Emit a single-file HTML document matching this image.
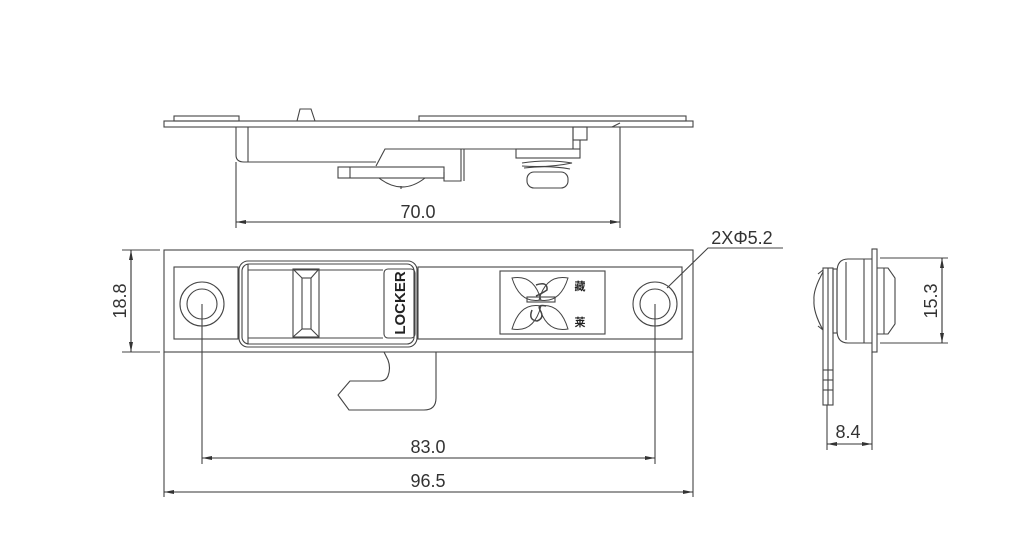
<!DOCTYPE html>
<html><head><meta charset="utf-8"><style>
html,body{margin:0;padding:0;background:#fff;}
svg{display:block;}
text{font-family:"Liberation Sans",sans-serif;fill:#333;}
</style></head><body>
<svg width="1020" height="560" viewBox="0 0 1020 560" xmlns="http://www.w3.org/2000/svg">
<defs>
<marker id="a" viewBox="0 0 10 4" refX="10" refY="2" markerWidth="10" markerHeight="4" orient="auto-start-reverse" markerUnits="userSpaceOnUse"><path d="M0,0 L10,2 L0,4 Z" fill="#333"/></marker>
</defs>
<g fill="none" stroke="#444" stroke-width="1.1">
<rect x="164" y="121" width="529" height="6"/>
<rect x="174" y="116" width="65" height="5"/>
<rect x="419" y="116" width="267" height="5"/>
<path d="M297,121 L300,109 L311,109 L315,121"/>
<path d="M236,127 V155 Q236,162 244,162 H376"/>
<line x1="248" y1="127" x2="248" y2="162"/>
<path d="M376,166 L385,149 H573 V127"/>
<rect x="338" y="167" width="106" height="11"/>
<line x1="350" y1="167" x2="350" y2="178"/>
<path d="M444,172 V181 H461 V149"/>
<line x1="464" y1="149" x2="464" y2="181"/>
<path d="M379,178 Q402,196 425,178"/>
<line x1="401" y1="186" x2="401" y2="189"/>
<rect x="573" y="127" width="14" height="13"/>
<line x1="580" y1="140" x2="580" y2="149"/>
<rect x="516" y="149" width="64" height="9"/>
<path d="M523,158 H574"/>
<path d="M522,163 Q548,159 572,163 Q548,168 522,166"/>
<path d="M524,168 Q548,165 570,169"/>
<rect x="527" y="172" width="41" height="16" rx="7"/>
<path d="M612,127 L620,123"/>
<line x1="236" y1="162" x2="236" y2="228"/>
<line x1="620" y1="127" x2="620" y2="228"/>
<line x1="236" y1="222" x2="620" y2="222" marker-start="url(#a)" marker-end="url(#a)" stroke="#333"/>

<rect x="164" y="250" width="529" height="102"/>
<rect x="174" y="267" width="64" height="72"/>
<circle cx="202" cy="304" r="22"/>
<circle cx="202" cy="304" r="15"/>
<rect x="418" y="267" width="264" height="72"/>
<circle cx="655" cy="304" r="22"/>
<circle cx="655" cy="304" r="15"/>
<rect x="239" y="261" width="178" height="86" rx="9"/>
<rect x="242" y="264" width="172" height="80" rx="7"/>
<line x1="248" y1="264" x2="248" y2="344"/>
<line x1="248" y1="270" x2="383" y2="270"/>
<line x1="248" y1="338" x2="383" y2="338"/>
<rect x="293" y="269" width="26" height="68"/>
<rect x="302" y="278" width="9" height="51"/>
<path d="M293,269 L302,278 M319,269 L311,278 M293,337 L302,329 M319,337 L311,329"/>
<rect x="384" y="269" width="31" height="69" rx="4"/>
<rect x="500" y="271" width="105" height="63"/>
<path d="M384,352 L388,360 Q391,368 388,376 Q386,381 380,381 H350 L338,395 L349,410 H424 Q436,410 436,398 V352"/>
<path d="M512,278 Q534,274 541,300 Q520,304 512,278 Z M568,278 Q546,274 539,300 Q560,304 568,278 Z M512,329 Q534,333 541,306 Q520,302 512,329 Z M568,329 Q546,333 539,306 Q560,302 568,329 Z" stroke-width="1"/>
<rect x="527" y="297" width="28" height="5"/>
<path d="M532,310 Q528,320 537,321 Q545,318 540,310 Q537,304 546,306" stroke-width="1.5"/>
<path d="M536,285 Q548,281 547,290 Q541,294 536,296" stroke-width="1.5"/>
<path d="M667,288 L708,248 H783"/>
<line x1="202" y1="304" x2="202" y2="464"/>
<line x1="655" y1="304" x2="655" y2="464"/>
<line x1="164" y1="352" x2="164" y2="497"/>
<line x1="693" y1="352" x2="693" y2="497"/>
<line x1="202" y1="458" x2="655" y2="458" marker-start="url(#a)" marker-end="url(#a)" stroke="#333"/>
<line x1="164" y1="492" x2="693" y2="492" marker-start="url(#a)" marker-end="url(#a)" stroke="#333"/>
<line x1="122" y1="250" x2="160" y2="250"/>
<line x1="122" y1="352" x2="160" y2="352"/>
<line x1="131" y1="250" x2="131" y2="352" marker-start="url(#a)" marker-end="url(#a)" stroke="#333"/>

<rect x="872" y="249" width="5" height="103"/>
<path d="M872,259 H848 Q837,259 837,272 V330 Q837,343 848,343 H872"/>
<line x1="846" y1="262" x2="846" y2="340"/>
<line x1="864" y1="259" x2="864" y2="343"/>
<path d="M877,268 H888 L895,278 V324 L888,334 H877"/>
<line x1="884" y1="268" x2="884" y2="334"/>
<rect x="823" y="268" width="10" height="137"/>
<line x1="828" y1="268" x2="828" y2="405"/>
<line x1="823" y1="370" x2="833" y2="370"/>
<line x1="823" y1="380" x2="833" y2="380"/>
<line x1="823" y1="390" x2="833" y2="390"/>
<path d="M823,272 Q813,290 814,300 Q813,312 823,330"/>
<path d="M823,270 L818,274 M823,330 L818,326"/>
<rect x="833" y="269" width="4" height="64"/>
<line x1="880" y1="258" x2="948" y2="258"/>
<line x1="880" y1="343" x2="948" y2="343"/>
<line x1="942" y1="258" x2="942" y2="343" marker-start="url(#a)" marker-end="url(#a)" stroke="#333"/>
<line x1="827" y1="405" x2="827" y2="450"/>
<line x1="872" y1="352" x2="872" y2="450"/>
<line x1="827" y1="444" x2="872" y2="444" marker-start="url(#a)" marker-end="url(#a)" stroke="#333"/>
</g>
<text x="0" y="0" font-size="15" font-weight="bold" text-anchor="middle" transform="translate(405,303) rotate(-90)" style="fill:#222">LOCKER</text>
<text x="418" y="218" font-size="18" text-anchor="middle">70.0</text>
<text x="742" y="244" font-size="18" text-anchor="middle">2XΦ5.2</text>
<text x="428" y="453" font-size="18" text-anchor="middle">83.0</text>
<text x="428" y="487" font-size="18" text-anchor="middle">96.5</text>
<text x="848" y="438" font-size="18" text-anchor="middle">8.4</text>
<text x="0" y="0" font-size="18" text-anchor="middle" transform="translate(126,301) rotate(-90)">18.8</text>
<text x="0" y="0" font-size="18" text-anchor="middle" transform="translate(937,301) rotate(-90)">15.3</text>
<text x="580" y="290" font-size="11" font-weight="bold" text-anchor="middle" style="fill:#222;font-family:'Noto Sans CJK SC',sans-serif">藏</text>
<text x="580" y="326" font-size="11" font-weight="bold" text-anchor="middle" style="fill:#222;font-family:'Noto Sans CJK SC',sans-serif">莱</text>
</svg>
</body></html>
